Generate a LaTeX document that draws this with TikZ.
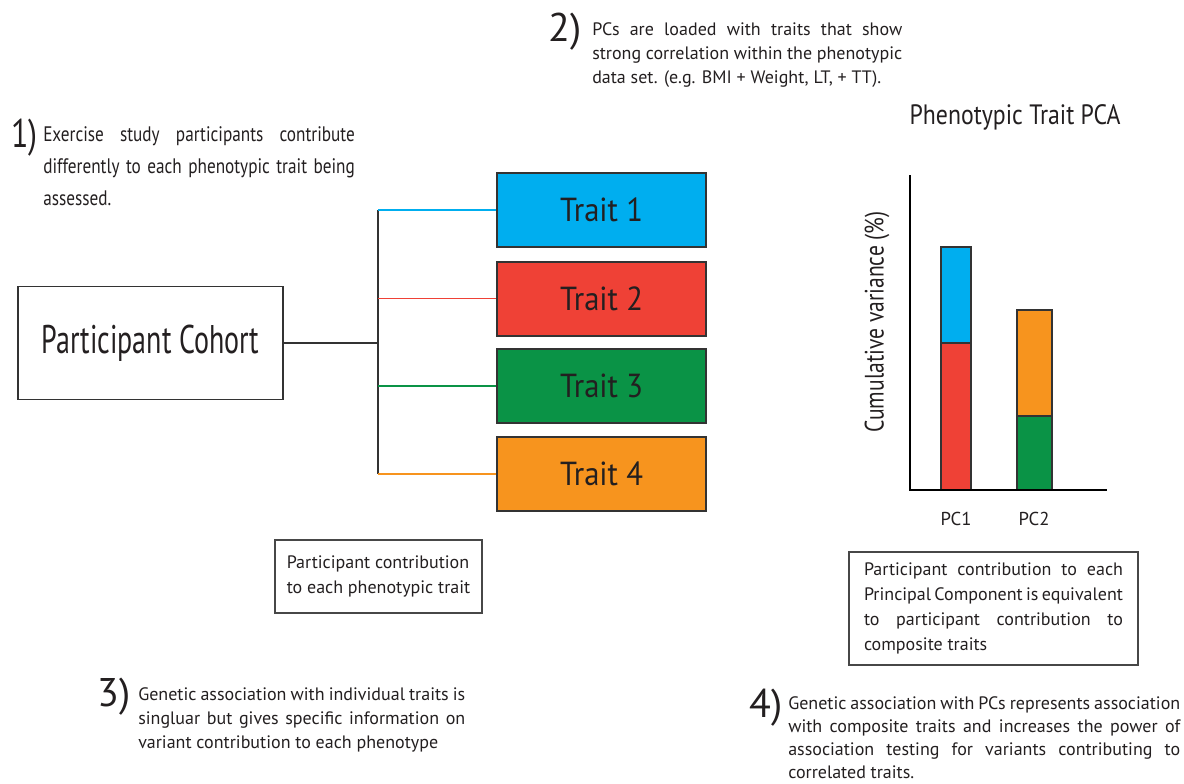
\documentclass[tikz,border=0pt]{standalone}
\usepackage{fontspec}
\setmainfont{PT Sans}
\usepackage{graphicx}
\definecolor{ink}{HTML}{231F20}
\definecolor{edge}{HTML}{333333}
\definecolor{tcyan}{HTML}{00AEEF}
\definecolor{tred}{HTML}{EF4136}
\definecolor{tgreen}{HTML}{0A9346}
\definecolor{torange}{HTML}{F7941E}
\newcommand{\jline}[2]{\makebox[#1][s]{#2}}
\begin{document}
\begin{tikzpicture}[x=0.75pt,y=-0.75pt,
  every node/.style={text=ink},
  traitbox/.style={draw=edge,line width=1.5pt,minimum width=156.75pt,minimum height=55.5pt,inner sep=0pt,font=\fontsize{25}{30}\selectfont},
  cohortbox/.style={draw=edge,line width=1.2pt,fill=white,minimum width=198.75pt,minimum height=84.75pt,inner sep=0pt,font=\fontsize{30}{34}\selectfont},
  notebox/.style={draw=edge!90,line width=1pt,inner sep=0pt,align=left,font=\fontsize{13.5}{18.75}\selectfont},
  bodytext/.style={anchor=base west,inner sep=0pt,font=\fontsize{13.5}{18}\selectfont},
  numtext/.style={anchor=base west,inner sep=0pt,font=\fontsize{30}{30}\selectfont},
  branch/.style={line width=1.2pt},
  bar/.style={draw=edge,line width=1.2pt},
  axis/.style={line width=2.2pt,black}
]
\useasboundingbox (0,0) rectangle (1184,783);

% --- left part ---
\node[cohortbox] (cohort) at (150.5,343) {\scalebox{0.70}[1]{Participant Cohort}};
\node[traitbox,fill=tcyan]   (t1) at (601.5,210)   {\scalebox{0.92}[1]{Trait 1}};
\node[traitbox,fill=tred]    (t2) at (601.5,298.5) {\scalebox{0.92}[1]{Trait 2}};
\node[traitbox,fill=tgreen]  (t3) at (601.5,386)   {\scalebox{0.92}[1]{Trait 3}};
\node[traitbox,fill=torange] (t4) at (601.5,474)   {\scalebox{0.92}[1]{Trait 4}};

\coordinate (j) at (378,343);
\draw[edge,line width=1.2pt] (cohort.east) -- (j);
\draw[edge,line width=1.2pt] (j |- t1.west) -- (j |- t4.west);
\draw[branch,tcyan]   (j |- t1.west) -- (t1.west);
\draw[branch,tred]    (j |- t2.west) -- (t2.west);
\draw[branch,tgreen]  (j |- t3.west) -- (t3.west);
\draw[branch,torange] (j |- t4.west) -- (t4.west);

% --- texts ---
\node[numtext] (n1) at (11,147) {\scalebox{0.8}[1]{1)}};
\node[anchor=base west,inner sep=0pt,font=\fontsize{15.75}{24}\selectfont] (txt1) at (43,141)
  {\scalebox{0.82}[1]{\parbox[t]{285pt}{\jline{285pt}{Exercise study participants contribute}\\
   \jline{285pt}{differently to each phenotypic trait being}\\
   assessed.}}};

\node[numtext] (n2) at (548,41) {2)};
\node[bodytext] (txt2) at (592,35)
  {\parbox[t]{232.5pt}{\jline{232.5pt}{PCs are loaded with traits that show}\\
   \jline{232.5pt}{strong correlation within the phenotypic}\\
   data set. (e.g. BMI + Weight, LT, + TT).}};

\node[numtext] (n3) at (97,706) {3)};
\node[bodytext] (txt3) at (138,700)
  {\parbox[t]{245.25pt}{\jline{245.25pt}{Genetic association with individual traits is}\\
   \jline{245.25pt}{singluar but gives specific information on}\\
   variant contribution to each phenotype}};

\node[numtext] (n4) at (749,717) {4)};
\node[bodytext,font=\fontsize{13.5}{17.25}\selectfont] (txt4) at (788,709)
  {\parbox[t]{294pt}{\jline{294pt}{Genetic association with PCs represents association}\\
   \jline{294pt}{with composite traits and increases the power of}\\
   \jline{294pt}{association testing for variants contributing to}\\
   correlated traits.}};

\node[notebox,minimum width=155.25pt,minimum height=54.75pt] (note1) at (378.5,576.5)
  {Participant contribution\\to each phenotypic trait};
\node[notebox,minimum width=216.75pt,minimum height=84.75pt] (note2) at (993.5,608.5)
  {\jline{194.25pt}{Participant contribution to each}\\
   \jline{194.25pt}{Principal Component is equivalent}\\
   \jline{194.25pt}{to participant contribution to}\\
   composite traits};

% --- chart ---
\node[font=\fontsize{21}{24}\selectfont] (title) at (1015,117) {\scalebox{0.85}[1]{Phenotypic Trait PCA}};
\coordinate (o) at (910,490);
\coordinate (ytop) at (910,175);
\coordinate (xend) at (1107,490);
\draw[bar,fill=tred]    (941,343) rectangle (971,490);
\draw[bar,fill=tcyan]   (941,247) rectangle (971,343);
\draw[bar,fill=tgreen]  (1017,416) rectangle (1052,490);
\draw[bar,fill=torange] (1017,310) rectangle (1052,416);
\draw[axis] (ytop) -- (o) -- (xend);
\node[rotate=90,font=\fontsize{20}{24}\selectfont] (ylab) at (877,322) {\scalebox{0.81}[1]{Cumulative variance (\%)}};
\node[font=\fontsize{14}{16}\selectfont] (pc1) at (956,519) {PC1};
\node[font=\fontsize{14}{16}\selectfont] (pc2) at (1034,519) {PC2};
\end{tikzpicture}
\end{document}
